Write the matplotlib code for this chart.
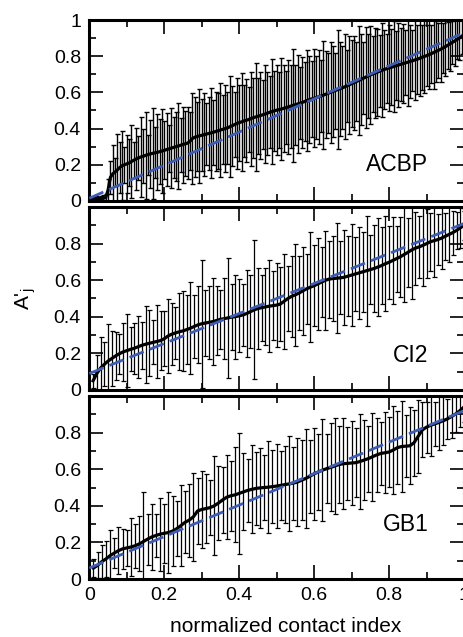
import numpy as np
import matplotlib
matplotlib.use("Agg")
from matplotlib import pyplot as plt
from matplotlib.ticker import MultipleLocator

plt.rcParams['font.family'] = ['Liberation Sans', 'DejaVu Sans']
plt.rcParams['mathtext.fontset'] = 'custom'
plt.rcParams['mathtext.rm'] = 'Liberation Sans'
plt.rcParams['mathtext.it'] = 'Liberation Sans'

# protein names, one per panel
proteins = ['ACBP', 'CI2', 'GB1']

# mean A'_j per contact (ordered by normalized contact index)
acbp_mean = [
    0.01, 0.01, 0.012, 0.012, 0.014, 0.015, 0.018, 0.06, 0.13, 0.15, 0.16, 0.172, 0.185, 0.195, 0.2, 0.205,
    0.21, 0.218, 0.225, 0.232, 0.238, 0.243, 0.247, 0.252, 0.256, 0.26, 0.263, 0.266, 0.269, 0.272, 0.276, 0.28,
    0.284, 0.288, 0.292, 0.296, 0.3, 0.304, 0.308, 0.312, 0.316, 0.32, 0.33, 0.345, 0.352, 0.356, 0.36, 0.363,
    0.366, 0.37, 0.373, 0.376, 0.38, 0.384, 0.388, 0.392, 0.396, 0.4, 0.404, 0.41, 0.416, 0.422, 0.428, 0.433,
    0.437, 0.442, 0.446, 0.45, 0.455, 0.46, 0.464, 0.468, 0.472, 0.476, 0.48, 0.485, 0.49, 0.494, 0.498, 0.502,
    0.505, 0.508, 0.512, 0.516, 0.52, 0.524, 0.528, 0.532, 0.536, 0.54, 0.545, 0.55, 0.555, 0.56, 0.564, 0.568,
    0.572, 0.576, 0.58, 0.585, 0.59, 0.595, 0.6, 0.605, 0.61, 0.615, 0.62, 0.625, 0.63, 0.636, 0.642, 0.648,
    0.654, 0.66, 0.666, 0.672, 0.678, 0.684, 0.69, 0.696, 0.702, 0.707, 0.712, 0.717, 0.722, 0.727, 0.731, 0.735,
    0.739, 0.743, 0.747, 0.751, 0.755, 0.759, 0.763, 0.767, 0.771, 0.775, 0.779, 0.783, 0.788, 0.793, 0.798, 0.803,
    0.808, 0.814, 0.82, 0.826, 0.832, 0.838, 0.845, 0.852, 0.86, 0.868, 0.876, 0.884, 0.892, 0.9, 0.91, 0.92,
]
acbp_err = [
    0.012, 0.01, 0.014, 0.012, 0.015, 0.016, 0.02, 0.06, 0.09, 0.16, 0.08, 0.2, 0.14, 0.19, 0.1, 0.16,
    0.13, 0.2, 0.1, 0.17, 0.12, 0.22, 0.15, 0.24, 0.11, 0.19, 0.25, 0.14, 0.21, 0.18, 0.23, 0.16,
    0.2, 0.13, 0.22, 0.17, 0.19, 0.24, 0.15, 0.21, 0.18, 0.2, 0.16, 0.25, 0.22, 0.19, 0.26, 0.2,
    0.23, 0.17, 0.2, 0.25, 0.18, 0.22, 0.21, 0.26, 0.19, 0.24, 0.2, 0.28, 0.22, 0.18, 0.25, 0.21,
    0.27, 0.2, 0.23, 0.18, 0.26, 0.22, 0.3, 0.21, 0.24, 0.19, 0.27, 0.23, 0.2, 0.29, 0.22, 0.25,
    0.21, 0.28, 0.24, 0.2, 0.26, 0.23, 0.31, 0.22, 0.27, 0.2, 0.25, 0.22, 0.28, 0.24, 0.21, 0.27,
    0.23, 0.26, 0.2, 0.3, 0.24, 0.22, 0.28, 0.25, 0.21, 0.33, 0.26, 0.23, 0.29, 0.2, 0.27, 0.24,
    0.26, 0.22, 0.3, 0.25, 0.2, 0.28, 0.23, 0.27, 0.21, 0.25, 0.24, 0.2, 0.26, 0.22, 0.19, 0.24,
    0.21, 0.25, 0.19, 0.23, 0.2, 0.22, 0.18, 0.24, 0.2, 0.17, 0.22, 0.19, 0.21, 0.18, 0.2, 0.17,
    0.19, 0.16, 0.2, 0.17, 0.15, 0.18, 0.14, 0.16, 0.13, 0.15, 0.12, 0.14, 0.11, 0.12, 0.1, 0.09,
]

ci2_mean = [
    0.05, 0.09, 0.12, 0.14, 0.158, 0.172, 0.186, 0.198, 0.208, 0.215,
    0.222, 0.228, 0.236, 0.244, 0.25, 0.255, 0.26, 0.265, 0.27, 0.28,
    0.295, 0.305, 0.312, 0.318, 0.323, 0.33, 0.338, 0.347, 0.356, 0.362,
    0.366, 0.37, 0.374, 0.38, 0.386, 0.39, 0.394, 0.398, 0.401, 0.405,
    0.41, 0.418, 0.428, 0.438, 0.445, 0.45, 0.454, 0.458, 0.461, 0.464,
    0.47, 0.485, 0.5, 0.512, 0.52, 0.53, 0.542, 0.553, 0.562, 0.57,
    0.58, 0.59, 0.6, 0.606, 0.609, 0.611, 0.613, 0.616, 0.622, 0.628,
    0.634, 0.64, 0.646, 0.652, 0.658, 0.664, 0.672, 0.68, 0.69, 0.698,
    0.708, 0.718, 0.728, 0.74, 0.752, 0.765, 0.775, 0.782, 0.79, 0.8,
    0.81, 0.816, 0.822, 0.83, 0.84, 0.85, 0.86, 0.872, 0.886, 0.9,
]
ci2_err = [
    0.04, 0.1, 0.17, 0.12, 0.2, 0.15, 0.13, 0.11, 0.16, 0.2,
    0.12, 0.14, 0.17, 0.13, 0.21, 0.18, 0.12, 0.2, 0.16, 0.15,
    0.2, 0.17, 0.14, 0.21, 0.22, 0.19, 0.25, 0.17, 0.21, 0.35,
    0.18, 0.2, 0.24, 0.19, 0.16, 0.22, 0.33, 0.18, 0.23, 0.2,
    0.17, 0.24, 0.2, 0.38, 0.22, 0.18, 0.21, 0.25, 0.19, 0.23,
    0.2, 0.26, 0.18, 0.22, 0.28, 0.2, 0.24, 0.19, 0.3, 0.22,
    0.25, 0.19, 0.27, 0.21, 0.23, 0.3, 0.2, 0.26, 0.22, 0.28,
    0.2, 0.25, 0.22, 0.3, 0.19, 0.24, 0.27, 0.21, 0.26, 0.2,
    0.24, 0.18, 0.22, 0.26, 0.19, 0.27, 0.2, 0.17, 0.22, 0.19,
    0.16, 0.2, 0.14, 0.17, 0.13, 0.15, 0.12, 0.1, 0.11, 0.08,
]

gb1_mean = [
    0.06, 0.075, 0.095, 0.11, 0.128, 0.142, 0.155, 0.165, 0.17, 0.175,
    0.182, 0.192, 0.205, 0.218, 0.23, 0.238, 0.245, 0.25, 0.254, 0.262,
    0.275, 0.292, 0.31, 0.322, 0.34, 0.372, 0.38, 0.385, 0.39, 0.4,
    0.415, 0.432, 0.447, 0.455, 0.46, 0.468, 0.476, 0.484, 0.49, 0.495,
    0.498, 0.5, 0.502, 0.505, 0.508, 0.512, 0.516, 0.52, 0.524, 0.53,
    0.54, 0.55, 0.562, 0.575, 0.585, 0.595, 0.603, 0.61, 0.618, 0.626,
    0.63, 0.632, 0.634, 0.636, 0.642, 0.65, 0.658, 0.668, 0.678, 0.686,
    0.69, 0.694, 0.705, 0.718, 0.724, 0.726, 0.728, 0.745, 0.78, 0.815,
    0.83, 0.84, 0.848, 0.856, 0.865, 0.875, 0.888, 0.902, 0.92, 0.94,
]
gb1_err = [
    0.05, 0.07, 0.09, 0.1, 0.14, 0.08, 0.13, 0.11, 0.1, 0.16,
    0.12, 0.15, 0.27, 0.14, 0.18, 0.12, 0.2, 0.16, 0.22, 0.19,
    0.15, 0.22, 0.17, 0.2, 0.24, 0.18, 0.21, 0.19, 0.15, 0.27,
    0.2, 0.18, 0.23, 0.19, 0.26, 0.33, 0.21, 0.17, 0.24, 0.2,
    0.22, 0.18, 0.25, 0.2, 0.23, 0.19, 0.21, 0.26, 0.2, 0.24,
    0.22, 0.27, 0.2, 0.25, 0.21, 0.28, 0.19, 0.24, 0.26, 0.21,
    0.25, 0.2, 0.23, 0.19, 0.26, 0.22, 0.18, 0.24, 0.2, 0.17,
    0.22, 0.19, 0.24, 0.2, 0.25, 0.17, 0.21, 0.18, 0.2, 0.15,
    0.14, 0.17, 0.12, 0.15, 0.13, 0.11, 0.12, 0.1, 0.09, 0.08,
]

# dashed reference lines (value at x=0 and x=1)
ref_ends = [[0.015, 0.93], [0.09, 0.91], [0.06, 0.92]]
# y position of the protein name in each panel
name_y = [0.2, 0.19, 0.3]

means = [acbp_mean, ci2_mean, gb1_mean]
errs = [acbp_err, ci2_err, gb1_err]

xticks = [0, 0.2, 0.4, 0.6, 0.8, 1.0]
xtick_labels = ['0', '0.2', '0.4', '0.6', '0.8', '1']
yticks = [0, 0.2, 0.4, 0.6, 0.8, 1.0]

fig = plt.figure(figsize=(4.64, 6.37), dpi=100)

# panel boxes in figure coords (left, bottom, width, height)
boxes = [
    [0.1925, 0.6845, 0.8075, 0.2841],
    [0.1925, 0.3878, 0.8075, 0.2872],
    [0.1925, 0.0910, 0.8075, 0.2873],
]
bar_lw = [1.0, 0.9, 0.9]

for k in range(3):
    ax = fig.add_axes(boxes[k])
    m = np.array(means[k])
    n = len(m)
    x = np.arange(1, n + 1) / n  # normalized contact index
    ax.errorbar(x, m, yerr=errs[k], fmt='none', ecolor='black',
                elinewidth=bar_lw[k], capsize=1.8, capthick=bar_lw[k], zorder=2)
    ax.plot(x, m, color='black', lw=2.3, zorder=3)
    ax.plot([0, 1], ref_ends[k], color='#3d5db3', lw=2.0,
            dashes=(5.5, 2.3), zorder=4)
    ax.text(0.905, name_y[k], proteins[k], ha='right', va='center',
            fontsize=16.5)

    ax.set_xlim(0, 1)
    ax.set_ylim(0, 1)
    ax.set_xticks(xticks)
    ax.set_yticks(yticks)
    ax.xaxis.set_minor_locator(MultipleLocator(0.1))
    ax.yaxis.set_minor_locator(MultipleLocator(0.1))
    ax.tick_params(which='both', direction='in', top=True, right=True,
                   width=1.2, labelsize=14, pad=6)
    ax.tick_params(which='major', length=10)
    ax.tick_params(which='minor', length=5)
    for sp in ax.spines.values():
        sp.set_linewidth(2.2)

    if k == 0:
        ax.set_yticklabels(['0', '0.2', '0.4', '0.6', '0.8', '1'])
    else:
        ax.set_yticklabels(['0', '0.2', '0.4', '0.6', '0.8', ''])
    if k == 2:
        ax.set_xticklabels(xtick_labels)
    else:
        ax.set_xticklabels([])

fig.text(26 / 464, 1 - 299 / 637, r"A'$_{\mathrm{j}}$", rotation=90,
         ha='center', va='center', fontsize=15)
fig.text(286 / 464, 1 - 627 / 637, 'normalized contact index',
         ha='center', va='center', fontsize=15)

fig.savefig('out.png', dpi=100)
